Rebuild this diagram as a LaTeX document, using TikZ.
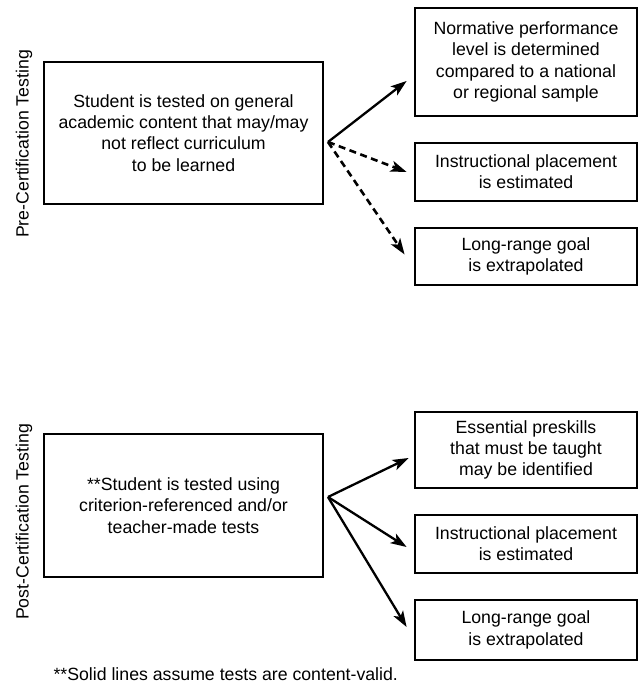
\documentclass[tikz,border=0pt]{standalone}
\usepackage{fontspec}
\setmainfont{Liberation Sans}
\usepackage{tikz}
\usetikzlibrary{arrows.meta}
\tikzstyle{arrow} = [line width=2.3pt,-{Stealth[length=16pt,width=11pt,inset=4pt]}]
\tikzstyle{dasharrow} = [arrow,line width=2.6pt,dash pattern=on 7pt off 4.5pt]

\begin{document}
\begin{tikzpicture}[
            x=1pt, y=-1pt,
            every node/.style={font=\fontsize{17.7}{21.3}\selectfont},
            box/.style={draw, line width=2.8pt, align=center, inner sep=0pt},
            mainbox/.style={box, minimum width=279pt},
            outbox/.style={box, minimum width=222pt}
        ]
            \useasboundingbox (0,0) rectangle (641,684);

            \node[rotate=90] (prelabel) at (24,144) {Pre-Certification Testing};
            \node[mainbox, minimum height=142pt] (pretest) at (183.5,133)
                {Student is tested on general\\academic content that may/may\\not reflect curriculum\\to be learned};
            \node[outbox, minimum height=108pt] (prenorm) at (526,62)
                {Normative performance\\level is determined\\compared to a national\\or regional sample};
            \node[outbox, minimum height=58pt] (preplace) at (526,172)
                {Instructional placement\\is estimated};
            \node[outbox, minimum height=57pt] (pregoal) at (526,256.5)
                {Long-range goal\\is extrapolated};
            \coordinate (prefork) at (328,142);
            \draw[arrow] (prefork) -- ([shift={(-7,19)}]prenorm.west);
            \draw[dasharrow] (prefork) -- ([shift={(-7,0)}]preplace.west);
            \draw[dasharrow] (prefork) -- ([shift={(-9,-2)}]pregoal.west);

            \node[rotate=90] (postlabel) at (24,522) {Post-Certification Testing};
            \node[mainbox, minimum height=143pt] (posttest) at (183.5,505.5)
                {**Student is tested using\\criterion-referenced and/or\\teacher-made tests};
            \node[outbox, minimum height=76pt] (postskill) at (526,450)
                {Essential preskills\\that must be taught\\may be identified};
            \node[outbox, minimum height=58pt] (postplace) at (526,544)
                {Instructional placement\\is estimated};
            \node[outbox, minimum height=60pt] (postgoal) at (526,630)
                {Long-range goal\\is extrapolated};
            \coordinate (postfork) at (328,497);
            \draw[arrow] (postfork) -- ([shift={(-5,8)}]postskill.west);
            \draw[arrow] (postfork) -- ([shift={(-7,3)}]postplace.west);
            \draw[arrow] (postfork) -- ([shift={(-7,-3)}]postgoal.west);

            \node[anchor=west] (note) at (50,674) {**Solid lines assume tests are content-valid.};
        \end{tikzpicture}
\end{document}
